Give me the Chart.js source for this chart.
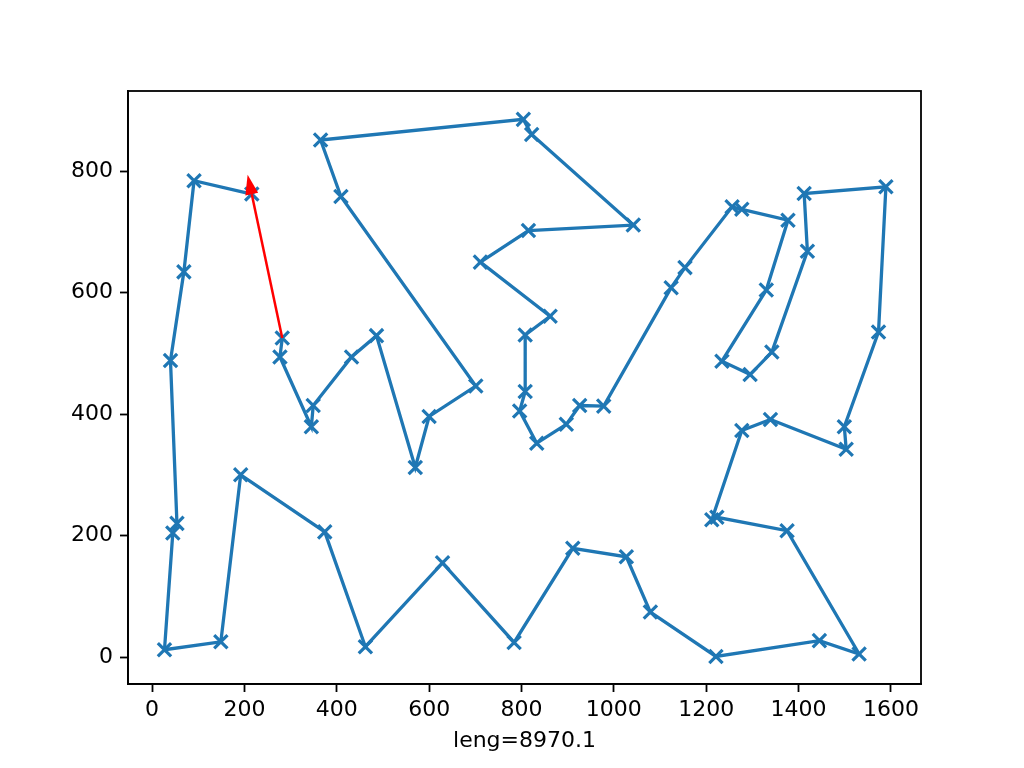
<!DOCTYPE html>
<html lang="en">
<head>
    <meta charset="UTF-8">
    <title>Tour</title>
    <script src="https://cdn.jsdelivr.net/npm/chart.js"></script>
    <style>
        body { margin: 0; background: #ffffff; }
        canvas { display: block; }
    </style>
</head>
<body>
    <canvas id="tourChart" width="1024" height="768"></canvas>

    <script>
        // tour order (open path, the red arrow marks the missing edge)
        const tourX = [282, 277, 345, 349, 432, 486, 570, 600, 701, 409, 365, 804, 822, 1042, 815, 711, 862, 808, 808, 796,
                       833, 897, 926, 978, 1124, 1154, 1256, 1277, 1377, 1330, 1234, 1295, 1342, 1419, 1412, 1589, 1573, 1499, 1503, 1339,
                       1277, 1212, 1223, 1375, 1531, 1445, 1221, 1079, 1027, 911, 784, 629, 462, 374, 192, 149, 27, 45, 54, 40,
                       69, 91, 216];
        const tourY = [525, 494, 379, 414, 494, 529, 312, 396, 446, 758, 851, 885, 860, 711, 702, 650, 561, 530, 437, 405,
                       352, 383, 414, 413, 608, 641, 741, 737, 719, 604, 487, 465, 502, 668, 763, 774, 535, 379, 342, 391,
                       373, 226, 230, 208, 5, 27, 1, 74, 165, 179, 24, 155, 17, 206, 300, 25, 12, 204, 220, 488,
                       634, 784, 762];

        const xTicks = [0, 200, 400, 600, 800, 1000, 1200, 1400, 1600];
        const yTicks = [0, 200, 400, 600, 800];

        // red arrow: start point and tip
        const arrowStart = [282, 525];
        const arrowTip = [207, 794];

        const tourLength = 'leng=8970.1';

        const points = tourX.map((x, i) => ({ x: x, y: tourY[i] }));

        const frame = {
            id: 'frame',
            afterDatasetsDraw(chart) {
                const c = chart.ctx;
                const xs = chart.scales.x, ys = chart.scales.y;
                // arrow
                const x0 = xs.getPixelForValue(arrowStart[0]), y0 = ys.getPixelForValue(arrowStart[1]);
                const x1 = xs.getPixelForValue(arrowTip[0]), y1 = ys.getPixelForValue(arrowTip[1]);
                const ang = Math.atan2(y1 - y0, x1 - x0);
                const hl = 20, hw = 6.5;
                const bx = x1 - Math.cos(ang) * hl, by = y1 - Math.sin(ang) * hl;
                c.save();
                c.strokeStyle = '#ff0000';
                c.fillStyle = '#ff0000';
                c.lineWidth = 2.5;
                c.beginPath();
                c.moveTo(x0, y0);
                c.lineTo(bx, by);
                c.stroke();
                c.beginPath();
                c.moveTo(x1, y1);
                c.lineTo(bx + Math.sin(ang) * hw, by - Math.cos(ang) * hw);
                c.lineTo(bx - Math.sin(ang) * hw, by + Math.cos(ang) * hw);
                c.closePath();
                c.fill();
                // axes box
                const a = chart.chartArea;
                c.strokeStyle = '#000000';
                c.lineWidth = 1.8;
                c.strokeRect(a.left, a.top, a.right - a.left, a.bottom - a.top);
                c.restore();
            }
        };

        Chart.defaults.font.family = "'DejaVu Sans', sans-serif";
        Chart.defaults.font.size = 22;
        Chart.defaults.color = '#000000';

        new Chart(document.getElementById('tourChart').getContext('2d'), {
            type: 'scatter',
            data: {
                datasets: [{
                    data: points,
                    showLine: true,
                    borderColor: '#1f77b4',
                    backgroundColor: '#1f77b4',
                    borderWidth: 3.3,
                    pointStyle: 'crossRot',
                    pointRadius: 9.4,
                    pointBorderWidth: 3.2,
                    pointBorderColor: '#1f77b4',
                    tension: 0
                }]
            },
            options: {
                responsive: false,
                animation: false,
                devicePixelRatio: 1,
                layout: { padding: { left: 0, right: 103, top: 91, bottom: 0 } },
                plugins: {
                    legend: { display: false },
                    tooltip: { enabled: false }
                },
                scales: {
                    x: {
                        type: 'linear',
                        min: -52,
                        max: 1665,
                        afterBuildTicks: (s) => { s.ticks = xTicks.map(v => ({ value: v })); },
                        afterFit: (s) => { s.height = 84; },
                        grid: { display: true, drawOnChartArea: false, drawTicks: true, tickLength: 8, tickColor: '#000', tickWidth: 1.8 },
                        border: { display: true, color: '#000', width: 1.8 },
                        ticks: { padding: 5, maxRotation: 0, autoSkip: false, callback: (v) => String(v) },
                        title: { display: true, text: tourLength, padding: { top: 0, bottom: 14 } }
                    },
                    y: {
                        type: 'linear',
                        min: -44.4,
                        max: 931.7,
                        afterBuildTicks: (s) => { s.ticks = yTicks.map(v => ({ value: v })); },
                        afterFit: (s) => { s.width = 128; },
                        grid: { display: true, drawOnChartArea: false, drawTicks: true, tickLength: 8, tickColor: '#000', tickWidth: 1.8 },
                        border: { display: true, color: '#000', width: 1.8 },
                        ticks: { padding: 7, autoSkip: false, callback: (v) => String(v) }
                    }
                }
            },
            plugins: [frame]
        });
    </script>
</body>
</html>
